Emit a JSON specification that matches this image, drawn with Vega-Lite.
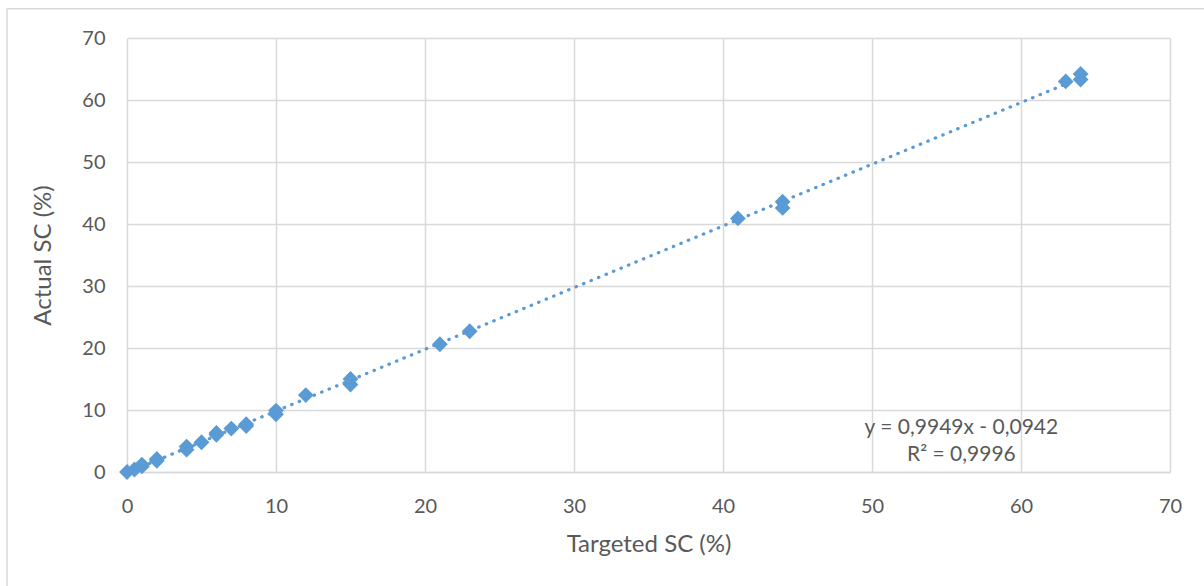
{
  "$schema": "https://vega.github.io/schema/vega-lite/v6.json",
  "width": 1043,
  "height": 434,
  "autosize": {"type": "none"},
  "padding": {"left": 127, "top": 38, "right": 34, "bottom": 114},
  "background": "white",
  "config": {
    "font": "Lato",
    "view": {"stroke": null},
    "axis": {
      "labelFont": "Lato",
      "titleFont": "Lato",
      "labelColor": "#595959",
      "titleColor": "#595959",
      "labelFontSize": 20,
      "titleFontSize": 24,
      "titleFontWeight": "normal",
      "gridColor": "#D9D9D9",
      "gridWidth": 1.5,
      "gridOpacity": 1,
      "ticks": false,
      "labelFlush": false,
      "domainColor": "#D9D9D9",
      "domainWidth": 1.5
    }
  },
  "datasets": {
    "points": [
      {"targeted": 0, "actual": 0},
      {"targeted": 0.5, "actual": 0.4},
      {"targeted": 1, "actual": 0.9},
      {"targeted": 1, "actual": 1.2},
      {"targeted": 2, "actual": 1.8},
      {"targeted": 2, "actual": 2.1},
      {"targeted": 4, "actual": 3.6},
      {"targeted": 4, "actual": 4.1},
      {"targeted": 5, "actual": 4.8},
      {"targeted": 6, "actual": 6.0},
      {"targeted": 6, "actual": 6.3},
      {"targeted": 7, "actual": 7.0},
      {"targeted": 8, "actual": 7.4},
      {"targeted": 8, "actual": 7.7},
      {"targeted": 10, "actual": 9.3},
      {"targeted": 10, "actual": 9.9},
      {"targeted": 12, "actual": 12.4},
      {"targeted": 15, "actual": 14.1},
      {"targeted": 15, "actual": 15.0},
      {"targeted": 21, "actual": 20.6},
      {"targeted": 23, "actual": 22.7},
      {"targeted": 41, "actual": 40.9},
      {"targeted": 44, "actual": 42.6},
      {"targeted": 44, "actual": 43.6},
      {"targeted": 63, "actual": 63.0},
      {"targeted": 64, "actual": 63.3},
      {"targeted": 64, "actual": 64.2}
    ],
    "labels": [
      {"targeted": 56, "actual": 7.1, "text": "y = 0,9949x - 0,0942"},
      {"targeted": 56, "actual": 2.7, "text": "R² = 0,9996"}
    ]
  },
  "layer": [
    {
      "data": {"name": "points"},
      "mark": {"type": "point", "shape": "diamond", "filled": true, "size": 250, "color": "#5B9BD5", "opacity": 1},
      "encoding": {
        "x": {
          "field": "targeted", "type": "quantitative",
          "scale": {"domain": [0, 70], "nice": false},
          "axis": {"title": "Targeted SC (%)", "values": [0, 10, 20, 30, 40, 50, 60, 70], "grid": true, "labelPadding": 24, "titlePadding": 16, "domain": true}
        },
        "y": {
          "field": "actual", "type": "quantitative",
          "scale": {"domain": [0, 70], "nice": false},
          "axis": {"title": "Actual SC (%)", "values": [0, 10, 20, 30, 40, 50, 60, 70], "grid": true, "labelPadding": 22, "titlePadding": 26, "domain": false}
        }
      }
    },
    {
      "data": {"name": "points"},
      "transform": [{"regression": "actual", "on": "targeted", "method": "linear"}],
      "mark": {"type": "line", "color": "#5B9BD5", "strokeWidth": 3.2, "strokeDash": [0.5, 7.6], "strokeCap": "round"},
      "encoding": {
        "x": {"field": "targeted", "type": "quantitative"},
        "y": {"field": "actual", "type": "quantitative"}
      }
    },
    {
      "data": {"name": "labels"},
      "mark": {"type": "text", "font": "Lato", "fontSize": 21, "color": "#595959", "align": "center", "baseline": "middle"},
      "encoding": {
        "x": {"field": "targeted", "type": "quantitative"},
        "y": {"field": "actual", "type": "quantitative"},
        "text": {"field": "text"}
      }
    },
    {
      "data": {"values": [{}]},
      "mark": {"type": "rect", "fill": null, "stroke": "#D9D9D9", "strokeWidth": 1.5, "clip": false},
      "encoding": {
        "x": {"datum": -8.05, "type": "quantitative"},
        "x2": {"datum": 90},
        "y": {"datum": 74.7, "type": "quantitative"},
        "y2": {"datum": -40}
      }
    }
  ]
}
